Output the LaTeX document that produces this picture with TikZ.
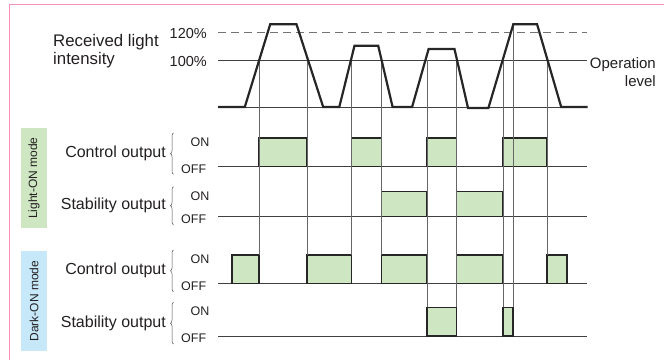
\documentclass[tikz,border=0pt]{standalone}
\usepackage{fontspec}
\setmainfont{Liberation Sans}
\usetikzlibrary{decorations.pathreplacing}
\definecolor{framepink}{HTML}{F490C0}
\definecolor{pulsegreen}{HTML}{CFE6C3}
\definecolor{modeblue}{HTML}{C6E8F8}
\definecolor{inkgray}{HTML}{231F20}

\begin{document}
\begin{tikzpicture}[x=1pt, y=-1pt,
    txt/.style={inner sep=0pt, text=inkgray},
    big/.style={txt, font=\fontsize{16}{18}\selectfont},
    pct/.style={txt, font=\fontsize{14.5}{16}\selectfont, anchor=east},
    onoff/.style={txt, font=\fontsize{12.5}{14}\selectfont, anchor=west},
    base/.style={line width=0.8pt, black!75},
    guide/.style={line width=0.5pt, black!60},
    wave/.style={line width=2.2pt, black!85},
    pulse/.style={fill=pulsegreen, draw=black!85, line width=1.2pt},
    curly/.style={decorate, decoration={brace, amplitude=3pt}, line width=0.5pt, black!70},
    modebox/.style={txt, rotate=90, minimum width=100pt, minimum height=26pt,
      font=\fontsize{12}{14}\selectfont}]
  \useasboundingbox (0,0) rectangle (664,360);
  \draw[framepink, line width=1.5pt] (9.3,360) -- (9.3,4.7) -- (664,4.7);

  % received light intensity
  \node[txt, font=\fontsize{16.8}{18}\selectfont, anchor=base west, align=left] (rli)
    at (53,64) {Received light\\intensity};
  \node[pct] (p120) at (207,33.3) {120\%};
  \node[pct] (p100) at (207,62) {100\%};
  \node[txt, font=\fontsize{15}{18.5}\selectfont, anchor=east, align=right] (oplvl)
    at (656,72) {Operation\\level};

  \draw[black!55, line width=0.8pt, dash pattern=on 8pt off 5pt] (218,32) -- (587,32);
  \draw[base] (218,60.3) -- (587,60.3);
  \draw[base] (218,107) -- (587,107);

  % mode boxes
  \node[modebox, fill=pulsegreen] (lightmode) at (34,178) {Light-ON mode};
  \node[modebox, fill=modeblue] (darkmode) at (34,301) {Dark-ON mode};

  % output rows
  \foreach \on/\off/\name [count=\i] in {138/166.3/Control output, 191.7/216.7/Stability output,
      255/283.7/Control output, 307.3/336/Stability output} {
    \draw[base] (218,\off) -- (587,\off);
    \draw[curly] (173.5,\off+8) -- (173.5,\on-5);
    \node[onoff] (on\i) at (190.5,\on+4) {ON};
    \node[onoff] (off\i) at (181,\off+2.5) {OFF};
    \node[big, anchor=east] (row\i) at (166,{(\on+\off)/2+1.5}) {\name};
  }

  % pulses
  \foreach \a/\b in {259/307, 351.5/381.5, 427/456.5, 503/547}
    \draw[pulse] (\a,166.3) rectangle (\b,138);
  \foreach \a/\b in {381.5/427, 456.5/503}
    \draw[pulse] (\a,216.7) rectangle (\b,191.7);
  \foreach \a/\b in {232/259, 307/351.5, 381.5/427, 456.5/503, 547/567}
    \draw[pulse] (\a,283.7) rectangle (\b,255);
  \foreach \a/\b in {427/456.5, 503/513}
    \draw[pulse] (\a,336) rectangle (\b,307.3);

  % guide lines
  \foreach \x/\t/\b in {259/60.3/255, 307/60.3/255, 351.5/60.3/255, 381.5/60.3/255,
      427/60.3/307.3, 456.5/60.3/307.3, 503/60.3/307.3, 513.3/24.3/307.3, 547/60.3/255}
    \draw[guide] (\x,\t) -- (\x,\b);

  % light wave
  \draw[wave] (218,107) -- (244.8,107) -- (270.2,24.3) -- (296.5,24.3) -- (323.2,107)
    -- (339.3,107) -- (354.5,45.7) -- (378.2,45.7) -- (392.6,107) -- (412.1,107)
    -- (428.6,49) -- (454.5,49) -- (468,108) -- (488.4,108) -- (513.3,24.3)
    -- (537.1,24.3) -- (561.2,107) -- (587.5,107);
\end{tikzpicture}
\end{document}
